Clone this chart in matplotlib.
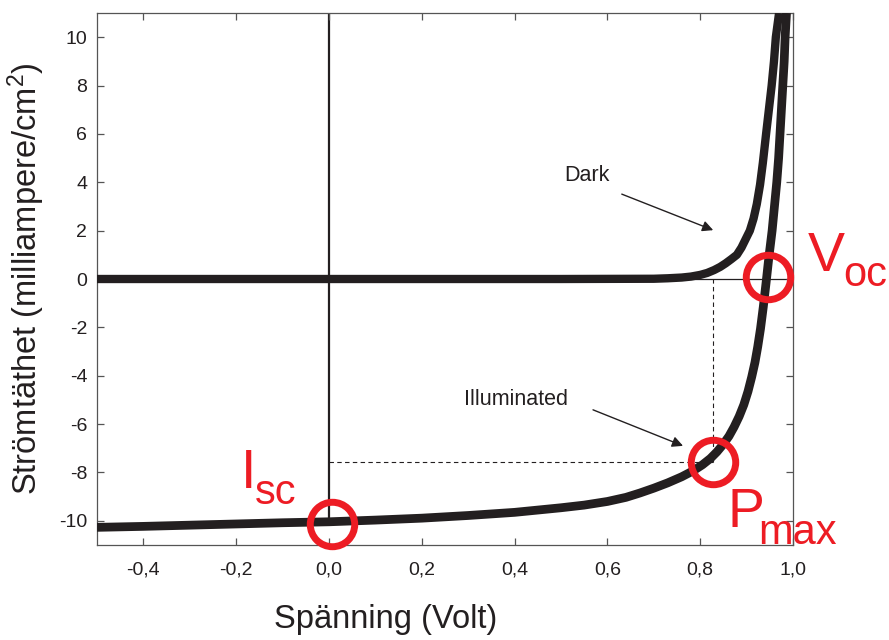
import matplotlib
matplotlib.use("Agg")
import matplotlib.pyplot as plt

plt.rcParams['font.family'] = ['Liberation Sans', 'DejaVu Sans']
plt.rcParams['mathtext.fontset'] = 'custom'
plt.rcParams['mathtext.rm'] = 'Liberation Sans'
plt.rcParams['mathtext.it'] = 'Liberation Sans:italic'

# ---- data ----
dark_v = [-0.5, 0.0, 0.5, 0.70, 0.73, 0.76, 0.78, 0.80, 0.815, 0.83, 0.843, 0.855,
          0.867, 0.879, 0.889, 0.898, 0.907, 0.915, 0.922, 0.929, 0.935, 0.942,
          0.948, 0.954, 0.959, 0.963, 0.970]
dark_j = [0.0, 0.0, 0.0, 0.01, 0.03, 0.06, 0.10, 0.17, 0.25, 0.37, 0.5, 0.65,
          0.82, 1.0, 1.3, 1.65, 2.0, 2.5, 3.1, 3.9, 4.8, 6.0,
          7.0, 8.0, 9.0, 10.0, 11.0]

illum_v = [-0.5, -0.4, -0.3, -0.2, -0.1, 0.0, 0.1, 0.2, 0.3, 0.4, 0.5, 0.55, 0.6,
           0.64, 0.67, 0.7, 0.73, 0.76, 0.785, 0.805, 0.822, 0.836, 0.849, 0.862,
           0.873, 0.884, 0.894, 0.903, 0.911, 0.918, 0.924, 0.930, 0.936, 0.942,
           0.948, 0.955, 0.960, 0.965, 0.969, 0.972, 0.975, 0.978, 0.981, 0.983, 0.986]
illum_j = [-10.27, -10.23, -10.18, -10.13, -10.08, -10.04, -9.97, -9.89, -9.78, -9.65,
           -9.46, -9.35, -9.2, -9.03, -8.85, -8.65, -8.43, -8.18, -7.93, -7.68,
           -7.42, -7.15, -6.85, -6.5, -6.12, -5.68, -5.2, -4.65, -4.05, -3.45,
           -2.8, -2.05, -1.15, -0.15, 0.9, 2.0, 3.0, 4.0, 5.0, 6.0, 7.0, 8.0, 9.0,
           10.0, 11.0]

isc_point = (0.006, -10.12)
pmax_point = (0.828, -7.56)
voc_point = (0.946, 0.08)

x_ticks = [-0.4, -0.2, 0.0, 0.2, 0.4, 0.6, 0.8, 1.0]
x_tick_labels = ['-0,4', '-0,2', '0,0', '0,2', '0,4', '0,6', '0,8', '1,0']
y_ticks = [-10, -8, -6, -4, -2, 0, 2, 4, 6, 8, 10]
y_tick_labels = [str(v) for v in y_ticks]

xlabel = 'Spänning (Volt)'
ylabel = r'Strömtäthet (milliampere/cm$^{\mathrm{2}}$)'

INK = '#231f20'
RED = '#ed1c24'

fig = plt.figure(figsize=(8.89, 6.4), dpi=100)
ax = fig.add_axes([97/889, 1-545/640, 696/889, 532/640])
ax.set_xlim(-0.5, 1.0)
ax.set_ylim(-11, 11)

# reference lines
ax.axhline(0, color=INK, lw=0.9, zorder=1)
ax.plot([0, 0], [isc_point[1], 11], color=INK, lw=1.6, zorder=1)

# dashed Pmax guides
ax.plot([pmax_point[0], pmax_point[0]], [pmax_point[1], 0], color=INK, lw=0.8,
        dashes=(4, 3), zorder=1)
ax.plot([0, pmax_point[0]], [pmax_point[1], pmax_point[1]], color=INK, lw=0.8,
        dashes=(4, 3), zorder=1)

# curves
ax.plot(dark_v, dark_j, color=INK, lw=6, solid_capstyle='butt',
        solid_joinstyle='round', zorder=3)
ax.plot(illum_v, illum_j, color=INK, lw=6.3, solid_capstyle='butt',
        solid_joinstyle='round', zorder=3)

# red circles
for p in (isc_point, pmax_point, voc_point):
    ax.plot([p[0]], [p[1]], marker='o', ms=32, mew=5, mfc='none', mec=RED,
            zorder=5, clip_on=False)

# annotations
ax.text(0.556, 4.26, 'Dark', fontsize=15.5, color=INK, ha='center', va='center')
ax.annotate('', xy=(0.828, 2.02), xytext=(0.631, 3.51),
            arrowprops=dict(arrowstyle='-|>', lw=1.0, color=INK, mutation_scale=16,
                            shrinkA=0, shrinkB=0))
ax.text(0.403, -5.0, 'Illuminated', fontsize=15.5, color=INK, ha='center', va='center')
ax.annotate('', xy=(0.763, -6.90), xytext=(0.569, -5.41),
            arrowprops=dict(arrowstyle='-|>', lw=1.0, color=INK, mutation_scale=16,
                            shrinkA=0, shrinkB=0))

# red labels
big = 40
small = 30
ax.text(-0.190, -8.64, 'I', fontsize=big, color=RED, ha='left', va='baseline')
ax.text(-0.159, -9.30, 'sc', fontsize=small, color=RED, ha='left', va='baseline')
ax.text(0.858, -10.25, 'P', fontsize=big, color=RED, ha='left', va='baseline')
ax.text(0.925, -10.95, 'max', fontsize=small, color=RED, ha='left', va='baseline')
ax.text(1.032, 0.33, 'V', fontsize=big, color=RED, ha='left', va='baseline')
ax.text(1.108, -0.29, 'oc', fontsize=small, color=RED, ha='left', va='baseline')

# axes styling
ax.set_xticks(x_ticks)
ax.set_xticklabels(x_tick_labels)
ax.set_yticks(y_ticks)
ax.set_yticklabels(y_tick_labels)
ax.tick_params(axis='both', direction='in', length=5, width=0.9, color='#555555',
               labelsize=14, labelcolor=INK, top=True, right=True)
ax.tick_params(axis='x', pad=12)
ax.tick_params(axis='y', pad=7)
for s in ax.spines.values():
    s.set_color('#555555')
    s.set_linewidth(0.9)

ax.set_xlabel(xlabel, fontsize=23.5, color=INK)
ax.xaxis.set_label_coords(0.414, -0.111)
ax.xaxis.label.set_va('top')
ax.set_ylabel(ylabel, fontsize=23.5, color=INK)
ax.yaxis.set_label_coords(-0.102, 0.5)
ax.yaxis.label.set_va('center')

fig.savefig('out.png', dpi=100)
